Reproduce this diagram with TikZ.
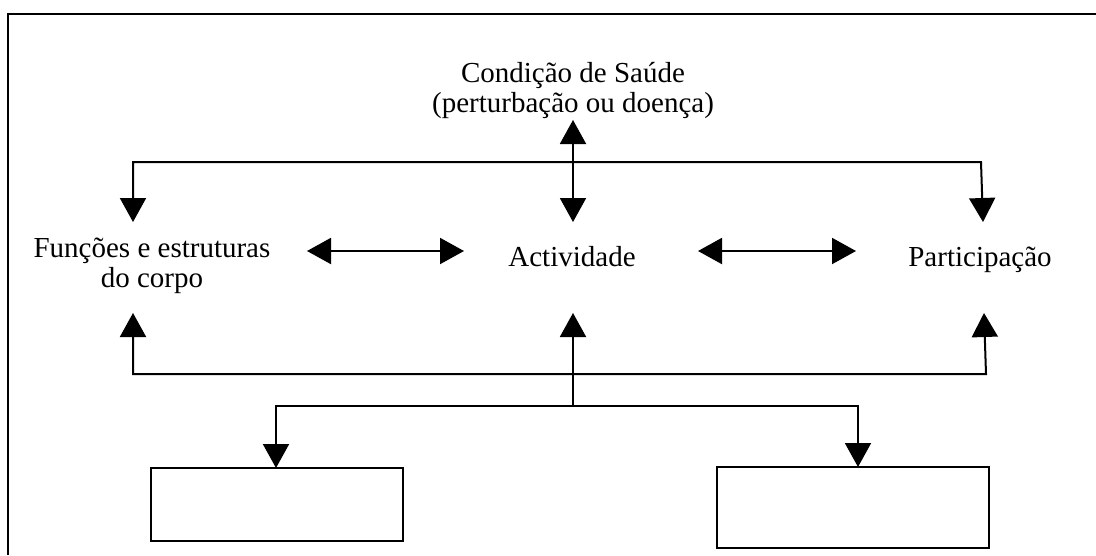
\documentclass[tikz,border=0pt]{standalone}
\usepackage{fontspec}
\setmainfont{Liberation Serif}
\usetikzlibrary{arrows.meta}
\begin{document}
\begin{tikzpicture}[x=1pt,y=-1pt,
  lbl/.style={inner sep=0pt, anchor=base, font=\fontsize{29}{30}\selectfont},
  conn/.style={line width=2pt, line join=miter},
  tipboth/.style={conn, {Triangle[length=24pt,width=26pt]}-{Triangle[length=24pt,width=26pt]}},
  tipend/.style={conn, -{Triangle[length=24pt,width=26pt]}},
  emptybox/.style={draw, line width=2pt, inner sep=0pt}]
\useasboundingbox (0,0) rectangle (1096,555);
% frame
\draw[line width=2pt] (8,555) -- (8,14) -- (1100,14);
% labels
\node[lbl] (health) at (573,82) {\begin{tabular}[t]{@{}c@{}}Condição de Saúde\\(perturbação ou doença)\end{tabular}};
\node[lbl] (func) at (152,257) {\begin{tabular}[t]{@{}c@{}}Funções e estruturas\\do corpo\end{tabular}};
\node[lbl] (act) at (572,266) {Actividade};
\node[lbl] (part) at (980,266) {Participação};
% boxes
\node[emptybox, minimum width=252pt, minimum height=73pt] (b1) at (277,504.5) {};
\node[emptybox, minimum width=272pt, minimum height=81pt] (b2) at (853,507.5) {};
% coordinates
\coordinate (hT) at (573,120);
\coordinate (aT) at (573,222);
\coordinate (fT) at (133,222);
\coordinate (pT) at (983,222);
\coordinate (tl) at (133,162);
\coordinate (tr) at (981,162);
\coordinate (fB) at (133,313);
\coordinate (aB) at (573,313);
\coordinate (pB) at (984,313);
\coordinate (bl) at (133,374);
\coordinate (br) at (986,374);
\coordinate (mid) at (573,406);
\coordinate (ll) at (276,406);
\coordinate (lr) at (858,406);
\coordinate (b1T) at (276,468);
\coordinate (b2T) at (858,467);
\coordinate (fa1) at (307,251);
\coordinate (fa2) at (464,251);
\coordinate (pa1) at (698,251);
\coordinate (pa2) at (856,251);
% connectors
\draw[tipboth] (fT) -- (tl) -- (tr) -- (pT);
\draw[tipboth] (hT) -- (aT);
\draw[tipboth] (fa1) -- (fa2);
\draw[tipboth] (pa1) -- (pa2);
\draw[tipboth] (fB) -- (bl) -- (br) -- (pB);
\draw[tipend] (mid) -- (aB);
\draw[tipboth] (b1T) -- (ll) -- (lr) -- (b2T);
\end{tikzpicture}
\end{document}
